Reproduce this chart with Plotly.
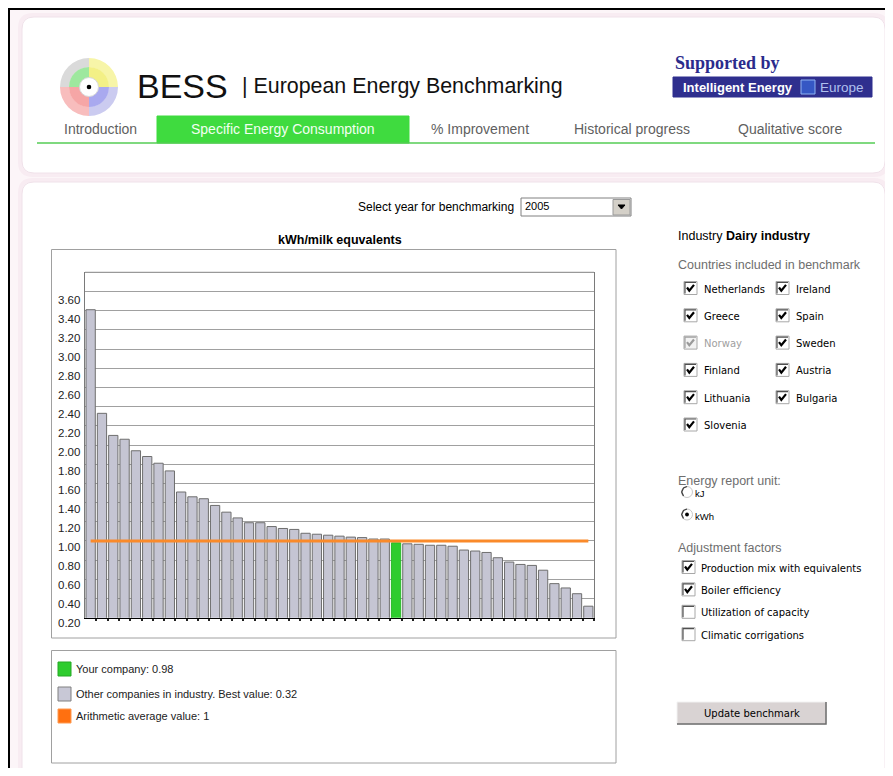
import plotly.graph_objects as go

# ---------------- data ----------------
company_rank = list(range(1, 46))
kwh_per_milk_equivalent = [3.41, 2.33, 2.10, 2.06, 1.94, 1.88, 1.81, 1.73, 1.51, 1.46,
                           1.44, 1.37, 1.30, 1.24, 1.19, 1.19, 1.15, 1.13, 1.12, 1.08,
                           1.07, 1.06, 1.05, 1.04, 1.035, 1.02, 1.02, 0.98, 0.97, 0.965,
                           0.955, 0.955, 0.945, 0.905, 0.895, 0.88, 0.825, 0.78, 0.755, 0.745,
                           0.695, 0.555, 0.51, 0.45, 0.32]
your_company_rank = 28
average_value = 1
y_grid_values = [0.4, 0.6, 0.8, 1.0, 1.2, 1.4, 1.6, 1.8, 2.0, 2.2, 2.4, 2.6, 2.8,
                 3.0, 3.2, 3.4, 3.6]
y_tick_values = [0.2, 0.4, 0.6, 0.8, 1.0, 1.2, 1.4, 1.6, 1.8, 2.0, 2.2, 2.4, 2.6,
                 2.8, 3.0, 3.2, 3.4, 3.6]
y_tick_labels = ["0.20", "0.40", "0.60", "0.80", "1.00", "1.20", "1.40", "1.60", "1.80",
                 "2.00", "2.20", "2.40", "2.60", "2.80", "3.00", "3.20", "3.40", "3.60"]

tabs = ["Introduction", "Specific Energy Consumption", "% Improvement",
        "Historical progress", "Qualitative score"]
active_tab = "Specific Energy Consumption"
countries = ["Netherlands", "Ireland", "Greece", "Spain", "Norway", "Sweden",
             "Finland", "Austria", "Lithuania", "Bulgaria", "Slovenia"]
country_enabled = [True, True, True, True, False, True, True, True, True, True, True]
adjustment_factors = ["Production mix with equivalents", "Boiler efficiency",
                      "Utilization of capacity", "Climatic corrigations"]
adjustment_checked = [True, True, False, False]
report_units = ["kJ", "kWh"]
selected_unit = "kWh"
benchmark_year = "2005"

# ---------------- page geometry helpers ----------------
OX, OY = 8, 8
W, H = 893 - OX, 776 - 2 * OY


def X(sx):
    return (sx - OX) / W


def Y(sy):
    return 1 - (sy - OY) / H


SANS = "Liberation Sans, Arial, sans-serif"
VERD = "DejaVu Sans, Verdana, sans-serif"
SERIF = "Liberation Serif, Times New Roman, serif"

shapes = []
annotations = []


def rect(x0, y0, x1, y1, fill="rgba(0,0,0,0)", line="rgba(0,0,0,0)", lw=1, layer="below"):
    shapes.append(dict(type="rect", xref="paper", yref="paper",
                       x0=X(x0), x1=X(x1), y0=Y(y1), y1=Y(y0),
                       fillcolor=fill, line=dict(color=line, width=lw), layer=layer))


def path(points, color="#000", width=1, fill=None, close=False, layer="above"):
    d = "M " + " L ".join(f"{X(a):.5f},{Y(b):.5f}" for a, b in points)
    if close:
        d += " Z"
    shapes.append(dict(type="path", xref="paper", yref="paper", path=d,
                       fillcolor=fill if fill else "rgba(0,0,0,0)",
                       line=dict(color=color, width=width), layer=layer))


def rrect(x0, y0, x1, y1, r, fill, line, lw, layer="below"):
    p = (f"M {X(x0 + r)},{Y(y0)} L {X(x1 - r)},{Y(y0)} Q {X(x1)},{Y(y0)} {X(x1)},{Y(y0 + r)} "
         f"L {X(x1)},{Y(y1 - r)} Q {X(x1)},{Y(y1)} {X(x1 - r)},{Y(y1)} "
         f"L {X(x0 + r)},{Y(y1)} Q {X(x0)},{Y(y1)} {X(x0)},{Y(y1 - r)} "
         f"L {X(x0)},{Y(y0 + r)} Q {X(x0)},{Y(y0)} {X(x0 + r)},{Y(y0)} Z")
    shapes.append(dict(type="path", xref="paper", yref="paper", path=p,
                       fillcolor=fill, line=dict(color=line, width=lw), layer=layer))


def circle(cx, cy, r, fill, line="rgba(0,0,0,0)", lw=1, layer="above"):
    shapes.append(dict(type="circle", xref="paper", yref="paper",
                       x0=X(cx - r), x1=X(cx + r), y0=Y(cy + r), y1=Y(cy - r),
                       fillcolor=fill, line=dict(color=line, width=lw), layer=layer))


def text(t, sx, sy, size=12, color="#000", family=SANS, anchor="left"):
    annotations.append(dict(text=t, x=X(sx), y=Y(sy), xref="paper", yref="paper",
                            xanchor=anchor, yanchor="middle", showarrow=False,
                            font=dict(size=size, color=color, family=family)))


def checkbox(x0, yc, checked, enabled=True):
    s = 13
    y0 = yc - s / 2
    rect(x0, y0, x0 + s, y0 + s, fill="#FFFFFF" if enabled else "#F2F2F2",
         line="#A8A8A8", lw=1, layer="above")
    path([(x0 + 1, y0 + s - 1), (x0 + 1, y0 + 1), (x0 + s - 1, y0 + 1)],
         color="#505050" if enabled else "#A0A0A0", width=1.2)
    if checked:
        path([(x0 + 3, y0 + 6), (x0 + 5.3, y0 + 9.2), (x0 + 10, y0 + 3.4)],
             color="#000" if enabled else "#9A9A9A", width=2.2)


# ---------------- page background ----------------
rrect(20, 15, 887, 175, 13, "rgba(0,0,0,0)", "#F8ECF2", 4)
rrect(22, 17, 885, 173, 12, "#FFFFFF", "#F0E2EA", 1)
rrect(20, 180, 887, 810, 13, "rgba(0,0,0,0)", "#F8ECF2", 4)
rrect(22, 182, 885, 808, 12, "#FFFFFF", "#F0E2EA", 1)
path([(9, 8), (9, 776)], color="#000", width=2)
path([(8, 9), (893, 9)], color="#000", width=2)

# ---------------- header ----------------
circle(89, 87, 9.5, "rgba(0,0,0,0)", "#D8D8D8", 1)
circle(89, 87, 2.3, "#000")
text("BESS", 135, 86, 34, "#111", SANS)
text("| European Energy Benchmarking", 240, 86, 21.4, "#111", SANS)
text("<b>Supported by</b>", 673, 63, 18, "#2B2B8C", SERIF)
rect(673, 77, 872, 97, fill="#2F2F8E", line="#2F2F8E", layer="above")
text("<b>Intelligent Energy</b>", 681, 87, 13, "#FFFFFF", SANS)
rect(801, 80, 815, 94, fill="#3557C4", line="#8FB4F2", lw=1, layer="above")
text("Europe", 818, 87, 13.5, "#AFC0EE", SANS)

tab_centers = [100, 283, 480, 632, 790]
rect(157, 116, 409, 143, fill="#3FDB3F", line="#3FDB3F")
path([(37, 143), (875, 143)], color="#55CC55", width=1.3, layer="below")
for name, cx in zip(tabs, tab_centers):
    text(name, cx, 129, 14, "#F2FFF2" if name == active_tab else "#5F5F5F", SANS, "center")

# ---------------- year selector ----------------
text("Select year for benchmarking", 516, 207, 12, "#000", SANS, "right")
rect(521, 198, 631, 216, fill="#FFFFFF", line="#808080", layer="above")
rect(613, 199.5, 630, 215, fill="#D4D0C8", line="#9A9A9A", layer="above")
path([(618, 205), (625, 205), (621.5, 209)], color="#000", width=1, fill="#000", close=True)
text(benchmark_year, 523, 206, 11, "#000", SANS)

# ---------------- chart frame + legend ----------------
text("<b>kWh/milk equvalents</b>", 340, 240, 12.5, "#000", SANS, "center")
rect(51.5, 249.5, 616, 638, line="#A0A0A0", lw=1)
rect(51.5, 650.5, 616, 763, line="#A0A0A0", lw=1)

bar_colors = ["#2ECC2E" if r == your_company_rank else "#C5C5D3" for r in company_rank]
bar_lines = ["#28B828" if r == your_company_rank else "#6E6E6E" for r in company_rank]
your_value = kwh_per_milk_equivalent[company_rank.index(your_company_rank)]
best_value = min(kwh_per_milk_equivalent)

legend_items = [
    ("#2ECC2E", "#25A825", f"Your company: {your_value:.2f}", 669),
    ("#C8C8D6", "#808080", f"Other companies in industry. Best value: {best_value:.2f}", 694),
    ("#FF7010", "#FF9A50", f"Arithmetic average value: {average_value:g}", 716),
]
for fill, edge, label, cy in legend_items:
    rect(58, cy - 7, 71, cy + 7, fill=fill, line=edge, lw=1, layer="above")
    text(label, 74, cy, 11, "#222", SANS)

# ---------------- right panel ----------------
text("Industry <b>Dairy industry</b>", 676, 236, 12.5, "#000", SANS)
text("Countries included in benchmark", 676, 265, 12.5, "#6E6E6E", SANS)
for i, (c, en) in enumerate(zip(countries, country_enabled)):
    col, row = i % 2, i // 2
    bx = 684 if col == 0 else 776
    cy = 288 + row * 27.3
    checkbox(bx, cy, True, en)
    text(c, bx + 18, cy + 1, 10, "#000" if en else "#A0A0A0", VERD)

text("Energy report unit:", 676, 480.5, 12.5, "#6E6E6E", SANS)
for i, u in enumerate(report_units):
    cy = 492 + i * 22.5
    circle(687, cy, 5.5, "#FFFFFF", "#C8C8C8", 1)
    path([(683.5, cy + 4), (681.7, cy), (683.5, cy - 4), (687, cy - 5.5)], color="#404040", width=1.3)
    if u == selected_unit:
        circle(687, cy, 1.9, "#000")
    text(u, 693, cy + 1.8, 9.5, "#000", SANS)

text("Adjustment factors", 676, 548, 12.5, "#6E6E6E", SANS)
for i, (f, chk) in enumerate(zip(adjustment_factors, adjustment_checked)):
    cy = 567 + i * 22.4
    checkbox(682, cy, chk, True)
    text(f, 699, cy + 1, 10, "#000", VERD)

rect(677, 702, 826, 724, fill="#D9D3D3", line="#F2F2F2", lw=1, layer="above")
path([(677, 724), (826, 724), (826, 702)], color="#6A6A6A", width=1.5)
text("Update benchmark", 751.5, 713, 10, "#000", VERD, "center")

# ---------------- y tick labels (drawn slightly below their gridlines as in original) ----------------
for v, lab in zip(y_tick_values, y_tick_labels):
    annotations.append(dict(text=lab, x=X(82), y=v, xref="paper", yref="y",
                            xanchor="right", yanchor="middle", showarrow=False,
                            yshift=-(5.6 + 0.84 * (v - 0.2)),
                            font=dict(size=11.5, color="#222", family=SANS)))

# top border of plot area
shapes.append(dict(type="line", xref="x domain", yref="y domain", x0=0, x1=1, y0=1, y1=1,
                   line=dict(color="#808080", width=1), layer="above"))

# ---------------- traces ----------------
fig = go.Figure()

# logo (decorative ring segments)
fig.add_trace(go.Pie(values=[1, 1, 1, 1], sort=False, direction="clockwise", rotation=0,
                     marker=dict(colors=["#F7F5A8", "#CBCBF0", "#F8BDBD", "#DADADA"],
                                 line=dict(width=0)),
                     hole=0.68, textinfo="none", hoverinfo="none", showlegend=False,
                     domain=dict(x=[X(60), X(118)], y=[Y(116), Y(58)])))
fig.add_trace(go.Pie(values=[1, 1, 1, 1], sort=False, direction="clockwise", rotation=0,
                     marker=dict(colors=["#F3F086", "#A9A9EF", "#F6A6A6", "#9EE89E"],
                                 line=dict(width=0)),
                     hole=0.48, textinfo="none", hoverinfo="none", showlegend=False,
                     domain=dict(x=[X(69), X(109)], y=[Y(107), Y(67)])))

fig.add_trace(go.Bar(x=company_rank, y=kwh_per_milk_equivalent,
                     marker=dict(color=bar_colors, line=dict(color=bar_lines, width=1)),
                     showlegend=False, hoverinfo="skip"))
fig.add_trace(go.Scatter(x=[company_rank[0], company_rank[-1]], y=[average_value, average_value],
                         mode="lines", line=dict(color="#FA8A2A", width=3),
                         showlegend=False, hoverinfo="skip"))

fig.update_layout(
    width=W, height=H, margin=dict(l=0, r=0, t=0, b=0),
    paper_bgcolor="#FCF5F8", plot_bgcolor="rgba(0,0,0,0)",
    showlegend=False, hovermode=False, bargap=0.18,
    shapes=shapes, annotations=annotations,
    xaxis=dict(domain=[X(85), X(594)], range=[0.5, 45.5], showgrid=False, zeroline=False,
               showline=True, linecolor="#000", linewidth=1,
               tickvals=[r + 0.5 for r in company_rank], ticks="outside", ticklen=2,
               tickcolor="#222", tickwidth=1.5, showticklabels=False, fixedrange=True),
    yaxis=dict(domain=[Y(617.7), Y(272.3)], range=[0.2, 3.8], tickvals=y_grid_values,
               showticklabels=False, showgrid=True, gridcolor="#A0A0A0", gridwidth=1,
               zeroline=False, showline=True, mirror=True, linecolor="#7A7A7A",
               ticks="", fixedrange=True),
)

fig.write_html("out.html", config={"displayModeBar": False})
